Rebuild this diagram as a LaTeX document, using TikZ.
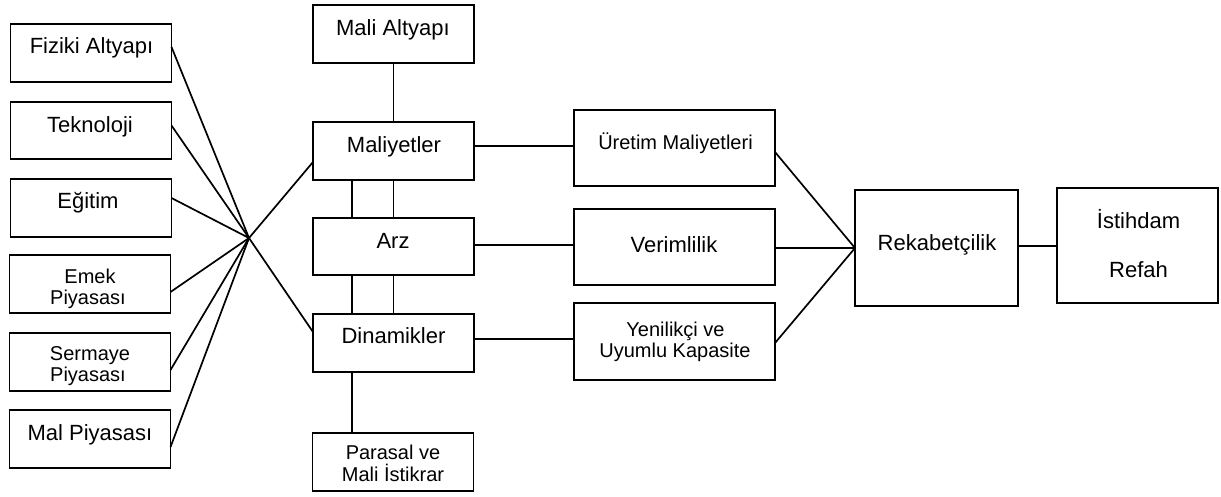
\documentclass[tikz,border=0pt]{standalone}
\usepackage{fontspec}
\setmainfont{Liberation Sans}
\begin{document}
\begin{tikzpicture}[x=1pt,y=-1pt,
  box/.style={draw,line width=1.7pt,minimum width=161pt,minimum height=58pt,inner sep=0pt,outer sep=0pt},
  wbox/.style={box,minimum width=201pt,minimum height=76pt},
  bbox/.style={box,minimum width=163pt,minimum height=116pt},
  lbl/.style={anchor=base,inner sep=0pt,font=\fontsize{22}{22}\selectfont},
  slbl/.style={anchor=base,inner sep=0pt,font=\fontsize{20}{20}\selectfont},
  con/.style={line width=1.7pt}]
\useasboundingbox (0,0) rectangle (1221,496);
% left column
\node[box] (fiz) at (91,53) {};
\node[box,minimum height=57pt] (tek) at (91,130.5) {};
\node[box] (egi) at (91,208) {};
\node[box] (emek) at (90,284) {};
\node[box] (serm) at (90,362) {};
\node[box] (mal) at (90,439) {};
\node[lbl] (tfiz) at (91.5,53) {Fiziki Altyapı};
\node[lbl] (ttek) at (90,132) {Teknoloji};
\node[lbl] (tegi) at (88,208) {Eğitim};
\node[slbl] (temek1) at (90,283) {Emek};
\node[slbl] (temek2) at (88,304) {Piyasası};
\node[slbl] (tserm1) at (90,360) {Sermaye};
\node[slbl] (tserm2) at (88,381) {Piyasası};
\node[lbl] (tmal) at (90,440) {Mal Piyasası};
% middle column
\node[box] (mali) at (393.5,34) {};
\node[box] (maliy) at (393.5,151) {};
\node[box,minimum height=57pt] (arz) at (393.5,246.5) {};
\node[box] (din) at (393.5,343) {};
\node[box] (par) at (393,462) {};
\node[lbl] (tmali) at (393,35) {Mali Altyapı};
\node[lbl] (tmaliy) at (394,152) {Maliyetler};
\node[lbl] (tarz) at (393,248) {Arz};
\node[lbl] (tdin) at (393.5,343) {Dinamikler};
\node[slbl] (tpar1) at (393,459) {Parasal ve};
\node[slbl] (tpar2) at (393,481) {Mali İstikrar};
% third column
\node[wbox] (uret) at (674.5,148) {};
\node[wbox] (ver) at (674.5,247) {};
\node[wbox,minimum height=77pt] (yen) at (674.5,341.5) {};
\node[slbl] (turet) at (675.5,149) {Üretim Maliyetleri};
\node[lbl] (tver) at (674,252) {Verimlilik};
\node[slbl] (tyen1) at (675.5,336) {Yenilikçi ve};
\node[slbl] (tyen2) at (675,357) {Uyumlu Kapasite};
% right
\node[bbox] (rek) at (936.5,248) {};
\node[bbox,minimum width=161pt,minimum height=115pt] (ist) at (1137.5,245.5) {};
\node[lbl] (trek) at (937,250) {Rekabetçilik};
\node[lbl] (tist1) at (1138.5,228) {İstihdam};
\node[lbl] (tist2) at (1138.5,277) {Refah};
% hub
\coordinate (hub) at (249,238);
\draw[con] ([yshift=6pt]fiz.east) -- (hub);
\draw[con] ([yshift=5pt]tek.east) -- (hub);
\draw[con] ([yshift=10pt]egi.east) -- (hub);
\draw[con] ([yshift=-8pt]emek.east) -- (hub);
\draw[con] ([yshift=-8pt]serm.east) -- (hub);
\draw[con] ([yshift=-8pt]mal.east) -- (hub);
\draw[con] (hub) -- ([yshift=-11pt]maliy.west);
\draw[con] (hub) -- ([yshift=11pt]din.west);
% vertical links
\draw[con] (mali.south) -- (maliy.north);
\draw[con] ([xshift=-41.5pt]maliy.south) -- ([xshift=-41.5pt]arz.north);
\draw[con] (maliy.south) -- (arz.north);
\draw[con] ([xshift=-41.5pt]arz.south) -- ([xshift=-41.5pt]din.north);
\draw[con] (arz.south) -- (din.north);
\draw[con] ([xshift=-41.5pt]din.south) -- ([xshift=-41.5pt]din.south |- par.north);
% horizontal links
\draw[con] ([yshift=5pt]maliy.east) -- ([yshift=5pt]maliy.east -| uret.west);
\draw[con] ([yshift=1.5pt]arz.east) -- ([yshift=1.5pt]arz.east -| ver.west);
\draw[con] ([yshift=4pt]din.east) -- ([yshift=4pt]din.east -| yen.west);
\draw[con] ([yshift=-4pt]uret.east) -- (rek.west);
\draw[con] ([yshift=-1pt]ver.east) -- (rek.west);
\draw[con] ([yshift=-1.5pt]yen.east) -- (rek.west);
\draw[con] ([yshift=2pt]rek.east) -- ([yshift=2pt]rek.east -| ist.west);
\end{tikzpicture}
\end{document}
